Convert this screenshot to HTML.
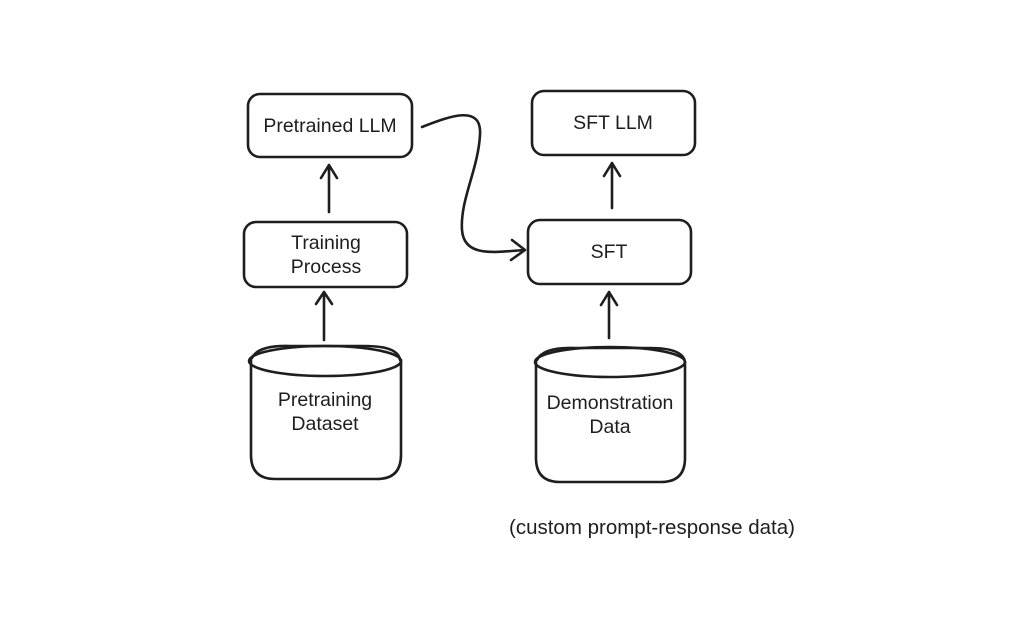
<!DOCTYPE html>
<html><head><meta charset="utf-8"><style>
html,body{margin:0;padding:0;background:#fff;}
svg{display:block}
text{font-family:"Liberation Sans","DejaVu Sans",sans-serif;font-size:19.5px;fill:#1e1e1e;text-anchor:middle}
</style></head><body>
<svg width="1024" height="632" viewBox="0 0 1024 632" xmlns="http://www.w3.org/2000/svg">
<g fill="none" stroke="#1e1e1e" stroke-width="2.6" stroke-linecap="round" stroke-linejoin="round">
<rect x="248" y="94" width="164" height="63" rx="12"/>
<rect x="244" y="222" width="163" height="65" rx="12"/>
<rect x="532" y="91" width="163" height="64" rx="12"/>
<rect x="528" y="220" width="163" height="64" rx="12"/>
<path d="M251 360 L251 455 Q251 479 275 479 L377 479 Q401 479 401 455 L401 360"/>
<ellipse cx="325" cy="361" rx="76" ry="15"/>
<path d="M252 358 Q258 345 290 346 L365 346 Q398 346 400 360"/>
<path d="M536 362 L536 458 Q536 482 560 482 L661 482 Q685 482 685 458 L685 362"/>
<ellipse cx="610" cy="362" rx="75" ry="15"/>
<path d="M537 360 Q543 347 575 348 L650 348 Q683 348 685 362"/>
<path d="M324 340 L324 292 M316 304 L324 292 L332 304"/>
<path d="M329 212 L329 165 M321 178 L329 165 L337 178"/>
<path d="M609 338 L609 292 M601 305 L609 292 L617 305"/>
<path d="M612 208 L612 163 M604 176 L612 163 L620 176"/>
<path d="M422 127 C452 115 482 105 480 135 C478 170 460 200 462 230 C464 258 495 252 525 250 M512 240 L525 250 L511 260"/>
</g>
<text x="330" y="132">Pretrained LLM</text>
<text x="326" y="249">Training</text>
<text x="326" y="273">Process</text>
<text x="613" y="129">SFT LLM</text>
<text x="609" y="258">SFT</text>
<text x="325" y="406">Pretraining</text>
<text x="325" y="430">Dataset</text>
<text x="610" y="409">Demonstration</text>
<text x="610" y="433">Data</text>
<text x="652" y="534" style="font-size:20.5px">(custom prompt-response data)</text>
</svg>
</body></html>
